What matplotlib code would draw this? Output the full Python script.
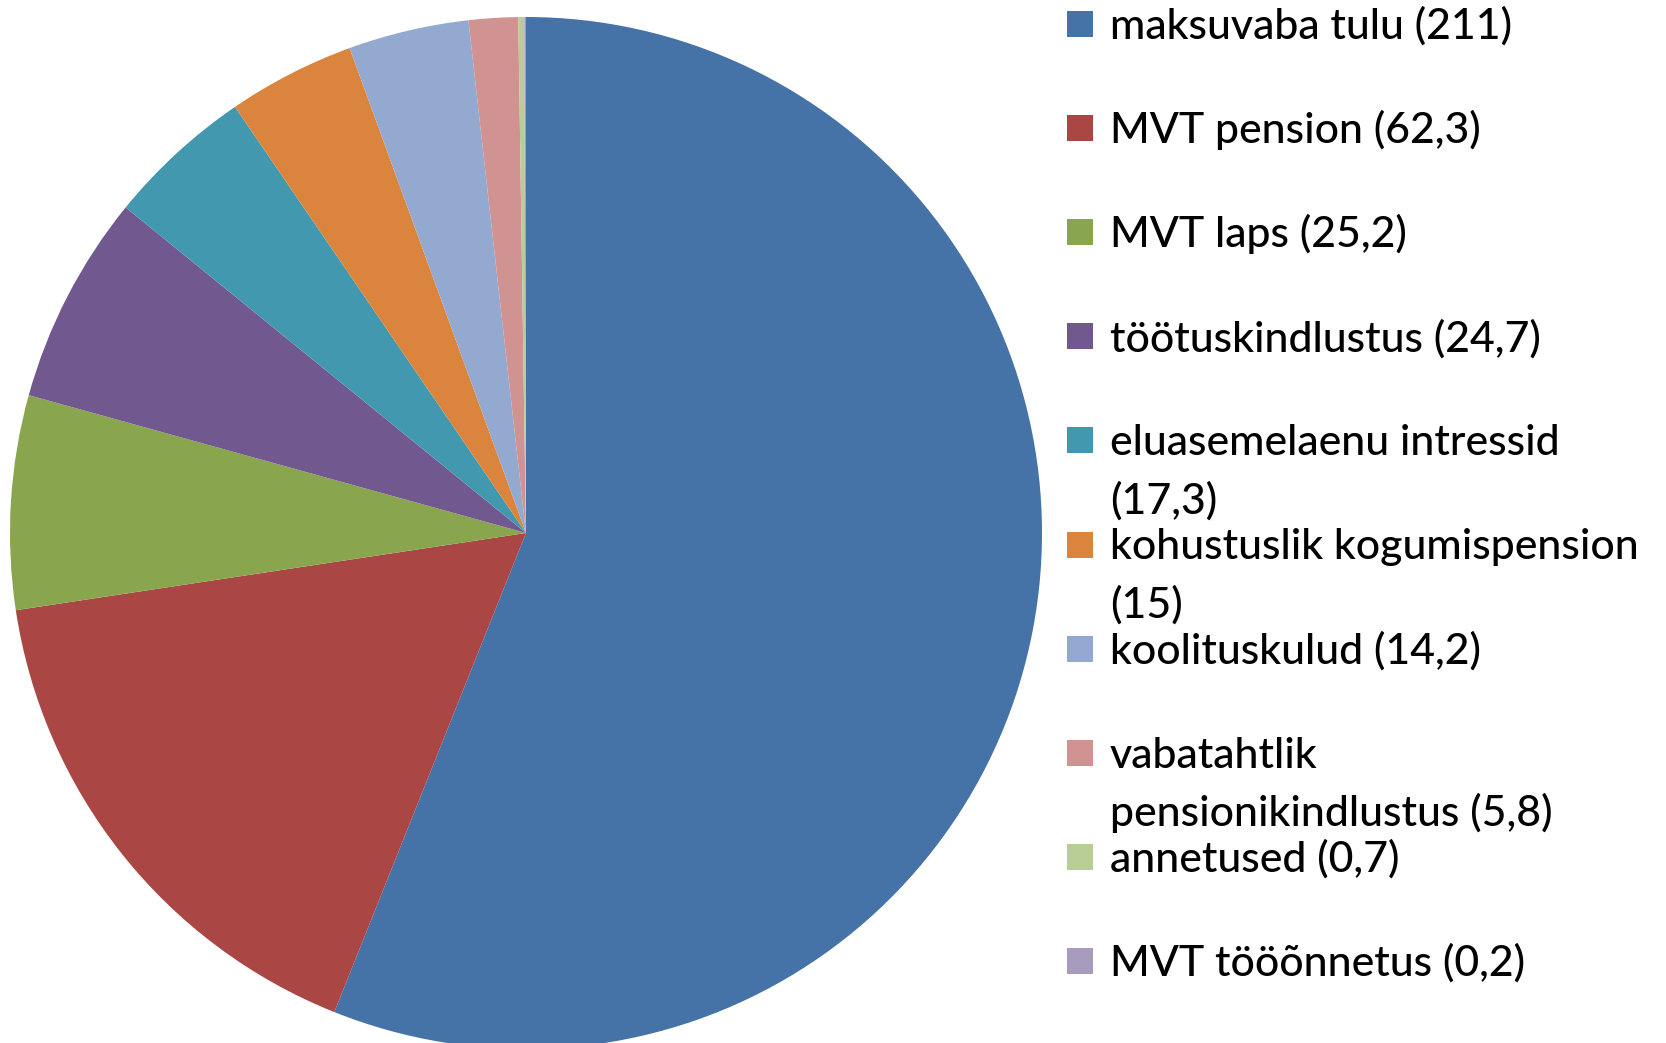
import matplotlib
matplotlib.use("Agg")
import matplotlib.pyplot as plt
from matplotlib.patches import Rectangle

labels = [
    "maksuvaba tulu (211)",
    "MVT pension (62,3)",
    "MVT laps (25,2)",
    "töötuskindlustus (24,7)",
    "eluasemelaenu intressid\n(17,3)",
    "kohustuslik kogumispension\n(15)",
    "koolituskulud (14,2)",
    "vabatahtlik\npensionikindlustus (5,8)",
    "annetused (0,7)",
    "MVT tööõnnetus (0,2)",
]
values = [211, 62.3, 25.2, 24.7, 17.3, 15, 14.2, 5.8, 0.7, 0.2]
colors = ["#4572A7", "#AA4643", "#89A54E", "#71588F", "#4198AF",
          "#DB843D", "#93A9CF", "#D19392", "#B9CD96", "#A99BBD"]

W, H = 1666, 1043
fig = plt.figure(figsize=(W / 100, H / 100), dpi=100)
fig.patch.set_facecolor("white")

cx, cy, R = 526, 533, 516
ax = fig.add_axes([(cx - R) / W, (H - cy - R) / H, 2 * R / W, 2 * R / H])
ax.pie(values, colors=colors, startangle=90, counterclock=False,
       radius=1, wedgeprops=dict(linewidth=0))
ax.set_xlim(-1, 1)
ax.set_ylim(-1, 1)
ax.set_aspect("equal")
ax.axis("off")

# legend drawn manually in pixel coordinates
sq = 26
x_sq = 1067
x_txt = 1110
y0 = 24
step = 104.1
line_gap = 58
for i, (lab, col) in enumerate(zip(labels, colors)):
    yc = y0 + i * step
    fig.patches.append(Rectangle(((x_sq) / W, (H - yc - sq / 2) / H), sq / W, sq / H,
                                 transform=fig.transFigure, facecolor=col,
                                 edgecolor="none"))
    for j, line in enumerate(lab.split("\n")):
        fig.text(x_txt / W, (H - yc - 15 - j * line_gap) / H, line,
                 fontsize=30.8, family="Lato", fontweight="medium",
                 ha="left", va="baseline", color="black")

fig.savefig("out.png", dpi=100, facecolor="white")
